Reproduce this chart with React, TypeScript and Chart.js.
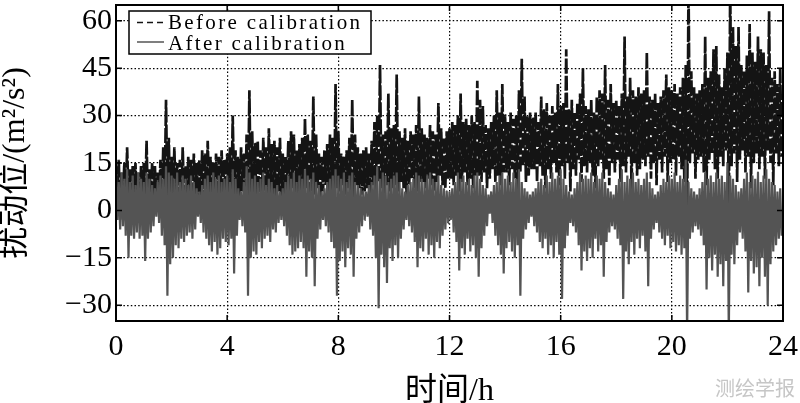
import { useEffect, useRef } from 'react';
import { Chart, registerables } from 'chart.js';

Chart.register(...registerables);

// ---- data (one row = one hour, 0.1 h bins) ----
const BIN_HOURS = 0.1;
const xTicks = [0, 4, 8, 12, 16, 20, 24];
const yTicks = [-30, -15, 0, 15, 30, 45, 60];
const seriesLabels = ['Before calibration', 'After calibration'];
const xTitle = '时间/h';
const yTitle = '扰动位/(m²/s²)';
const watermark = '测绘学报';

// upper envelope of "Before calibration" per bin
const beforeHigh = [
  14, 16, 12, 15, 20, 13, 14, 15, 12, 14,
  15, 22, 13, 15, 14, 12, 16, 20, 35, 23,
  17, 20, 15, 16, 20, 14, 17, 16, 18, 15,
  16, 19, 18, 22, 17, 15, 18, 17, 19, 16,
  18, 20, 30, 19, 17, 20, 18, 24, 38, 25,
  21, 22, 19, 23, 20, 26, 21, 22, 20, 23,
  18, 17, 22, 25, 24, 19, 21, 23, 29, 24,
  22, 36, 24, 18, 17, 19, 21, 24, 23, 40,
  25, 18, 17, 19, 23, 35, 24, 20, 18, 19,
  20, 18, 22, 28, 30, 46, 24, 25, 37, 26,
  27, 43, 25, 23, 26, 22, 25, 24, 27, 36,
  26, 24, 23, 27, 25, 24, 34, 26, 23, 25,
  26, 28, 27, 30, 37, 28, 29, 27, 30, 28,
  41, 35, 33, 27, 26, 28, 30, 38, 31, 40,
  30, 28, 31, 29, 30, 38, 48, 36, 30, 31,
  29, 31, 28, 36, 32, 34, 30, 33, 31, 40,
  33, 34, 51, 32, 35, 31, 34, 37, 45, 33,
  32, 35, 31, 36, 38, 37, 46, 35, 40, 34,
  35, 33, 37, 55, 36, 42, 38, 36, 39, 37,
  38, 50, 36, 35, 37, 34, 36, 38, 43, 39,
  38, 40, 37, 39, 42, 46, 72, 44, 39, 37,
  38, 40, 55, 42, 44, 51, 52, 43, 39, 45,
  50, 72, 58, 52, 58, 46, 44, 49, 59, 50,
  47, 55, 51, 50, 46, 63, 42, 44, 40, 45,
];

// lower envelope of "Before calibration" per bin
const beforeLow = [
  2, -3, 3, 1, 4, 0, 2, 3, -1, 2,
  3, 1, 4, 0, 2, 3, 1, 4, 2, 0,
  3, 2, 5, 1, 3, 4, 2, 1, 4, 3,
  2, 4, 3, 5, 1, 3, 4, 2, 5, 3,
  4, 2, 5, 3, 4, 6, 2, 4, 3, 5,
  5, 3, 4, 6, 2, 5, 4, 3, 6, 4,
  5, 6, 4, 7, 5, 3, 6, 5, 7, 4,
  6, 5, 7, 4, 6, 8, 5, 6, 4, 7,
  6, 8, 5, 7, 6, 4, 8, 7, 5, 6,
  7, 5, 8, 6, 9, 7, 5, 8, 6, 7,
  8, 6, 9, 7, 5, 8, 10, 7, 6, 9,
  9, 7, 10, 8, 6, 9, 11, 8, 7, 10,
  10, 8, 11, 6, 9, 12, 8, 10, 7, 11,
  11, 9, 12, 7, 10, 13, 9, 11, 8, 12,
  12, 8, 13, 10, 6, 12, 14, 9, 11, 13,
  13, 9, 14, 11, 7, 13, 10, 15, 12, 8,
  14, 10, 15, 6, 13, 11, 16, 9, 14, 12,
  15, 11, 7, 14, 16, 10, 13, 8, 15, 12,
  16, 9, 14, 12, 17, 6, 15, 11, 13, 16,
  14, 17, 10, 15, 8, 16, 12, 17, 9, 15,
  16, 11, 17, 13, 9, -5, 15, 18, 10, 16,
  17, 12, 8, 16, 18, 13, 10, 17, 14, 19,
  -3, 14, 18, 9, 16, 19, 12, 17, 7, 15,
  18, 13, 17, 10, 19, 15, 8, 18, 14, 17,
];

// upper envelope of "After calibration" per bin
const afterHigh = [
  11, 9, 12, 10, 13, 9, 11, 8, 12, 10,
  9, 12, 10, 8, 7, 9, 11, 10, 14, 12,
  11, 10, 12, 9, 11, 10, 8, 11, 9, 7,
  6, 8, 10, 11, 9, 12, 10, 11, 9, 10,
  11, 9, 13, 10, 7, 6, 9, 14, 12, 10,
  11, 9, 10, 12, 8, 10, 9, 7, 8, 6,
  7, 9, 11, 10, 12, 9, 11, 10, 13, 11,
  10, 12, 9, 8, 6, 7, 9, 10, 11, 13,
  11, 10, 12, 9, 11, 12, 9, 8, 7, 6,
  6, 8, 9, 11, 14, 10, 12, 11, 9, 10,
  11, 12, 9, 7, 6, 8, 9, 10, 12, 11,
  10, 9, 11, 12, 10, 9, 11, 8, 7, 6,
  6, 7, 9, 12, 10, 11, 9, 10, 8, 11,
  12, 10, 8, 7, 5, 6, 8, 9, 11, 12,
  10, 11, 9, 12, 10, 13, 9, 7, 6, 5,
  6, 7, 9, 10, 8, 11, 9, 12, 10, 11,
  13, 10, 8, 6, 5, 7, 9, 12, 10, 11,
  10, 12, 9, 11, 10, 12, 9, 7, 6, 5,
  8, 10, 13, 9, 11, 10, 12, 9, 10, 8,
  10, 12, 9, 7, 5, 6, 8, 10, 9, 11,
  10, 12, 9, 11, 10, 16, 9, 7, 6, 5,
  7, 9, 12, 10, 11, 9, 12, 10, 11, 9,
  15, 11, 10, 8, 6, 7, 10, 12, 9, 11,
  10, 12, 9, 11, 13, 10, 9, 8, 6, 7,
];

// lower envelope of "After calibration" per bin
const afterLow = [
  -3, -6, -5, -8, -15, -8, -9, -7, -9, -8,
  -16, -9, -7, -5, -2, -4, -8, -11, -27, -17,
  -15, -11, -12, -9, -10, -8, -7, -9, -6, -2,
  -4, -7, -9, -11, -13, -10, -14, -12, -9, -10,
  -11, -9, -20, -8, -3, -5, -7, -27, -15, -13,
  -14, -10, -12, -9, -8, -10, -6, -7, -4, -3,
  -5, -8, -11, -14, -13, -12, -10, -12, -21, -13,
  -15, -24, -9, -6, -3, -5, -7, -10, -12, -27,
  -16, -13, -18, -12, -14, -21, -9, -7, -5, -3,
  -2, -6, -8, -15, -31, -14, -18, -23, -12, -16,
  -11, -15, -9, -6, -3, -5, -7, -10, -18, -12,
  -13, -9, -14, -11, -15, -10, -12, -8, -6, -4,
  -3, -7, -10, -19, -12, -14, -9, -13, -11, -15,
  -21, -12, -8, -5, -1, -4, -8, -11, -14, -20,
  -12, -10, -13, -15, -11, -27, -9, -6, -4, -2,
  -5, -7, -10, -12, -9, -14, -11, -15, -10, -14,
  -28, -12, -8, -4, -5, -7, -11, -19, -13, -16,
  -12, -15, -9, -13, -11, -21, -10, -7, -5, -6,
  -9, -11, -28, -13, -17, -10, -14, -9, -12, -8,
  -13, -24, -9, -6, -4, -7, -9, -11, -8, -12,
  -10, -13, -11, -14, -12, -40, -9, -7, -5, -6,
  -8, -11, -25, -15, -19, -14, -21, -17, -24, -16,
  -40, -14, -17, -11, -7, -9, -13, -26, -16, -20,
  -18, -24, -15, -21, -30, -17, -13, -11, -9, -8,
];

// ---- helpers ----
function toPoints(high: number[], low: number[]) {
  const pts: { x: number; y: number }[] = [];
  for (let i = 0; i < high.length; i++) {
    pts.push({ x: i * BIN_HOURS, y: high[i] });
    pts.push({ x: i * BIN_HOURS + BIN_HOURS / 2, y: low[i] });
  }
  return pts;
}

const SERIF = '"Liberation Serif", "Times New Roman", serif';
const TITLE_FONT = '"Liberation Serif", "Noto Sans CJK SC", serif';

function drawSpaced(ctx: CanvasRenderingContext2D, text: string, x: number, y: number, spacing: number) {
  let cx = x;
  for (const ch of text) {
    ctx.fillText(ch, cx, y);
    cx += ctx.measureText(ch).width + spacing;
  }
}

const framePlugin = {
  id: 'matlabFrame',
  afterDraw(chart: any) {
    const { ctx, chartArea } = chart;
    const { left, right, top, bottom } = chartArea;
    const xs = chart.scales.x;
    const ys = chart.scales.y;
    ctx.save();
    // inward tick marks on all four sides
    ctx.strokeStyle = '#000';
    ctx.lineWidth = 1.5;
    ctx.setLineDash([]);
    const len = 6;
    ctx.beginPath();
    xTicks.forEach((v) => {
      const px = xs.getPixelForValue(v);
      ctx.moveTo(px, bottom);
      ctx.lineTo(px, bottom - len);
      ctx.moveTo(px, top);
      ctx.lineTo(px, top + len);
    });
    yTicks.forEach((v) => {
      const py = ys.getPixelForValue(v);
      ctx.moveTo(left, py);
      ctx.lineTo(left + len, py);
      ctx.moveTo(right, py);
      ctx.lineTo(right - len, py);
    });
    ctx.stroke();
    // frame
    ctx.lineWidth = 2;
    ctx.strokeRect(left, top, right - left, bottom - top);

    // legend box
    const bx = 129, by = 11, bw = 242, bh = 43;
    ctx.fillStyle = '#fff';
    ctx.fillRect(bx, by, bw, bh);
    ctx.lineWidth = 1.5;
    ctx.strokeStyle = '#000';
    ctx.strokeRect(bx, by, bw, bh);
    ctx.font = `21px ${SERIF}`;
    ctx.textBaseline = 'alphabetic';
    ctx.textAlign = 'left';
    const first = chart.data.datasets[0].label as string;
    const natural = ctx.measureText(first).width;
    const spacing = (192 - natural) / (first.length - 1);
    const rowY = [22.5, 42];
    const baseY = [28.5, 49.5];
    chart.data.datasets.forEach((ds: any, i: number) => {
      ctx.strokeStyle = ds.borderColor;
      ctx.lineWidth = 1.5;
      ctx.setLineDash(i === 0 ? [6, 4] : []);
      ctx.beginPath();
      ctx.moveTo(137, rowY[i]);
      ctx.lineTo(164, rowY[i]);
      ctx.stroke();
      ctx.setLineDash([]);
      ctx.fillStyle = '#000';
      drawSpaced(ctx, ds.label, 168, baseY[i], spacing);
    });

    // watermark
    ctx.font = '20px "Noto Sans CJK SC", sans-serif';
    ctx.fillStyle = '#c6c6c6';
    ctx.textAlign = 'center';
    ctx.textBaseline = 'middle';
    ctx.fillText(watermark, 755, 388);
    ctx.restore();
  },
};

const fmt = (v: number | string) => {
  const n = Number(v);
  return n < 0 ? '\u2212' + Math.abs(n) : String(n);
};

export default function App() {
  const ref = useRef<HTMLCanvasElement | null>(null);

  useEffect(() => {
    if (!ref.current) return;
    const chart = new Chart(ref.current, {
      type: 'line',
      data: {
        datasets: [
          {
            label: seriesLabels[0],
            data: toPoints(beforeHigh, beforeLow),
            borderColor: '#141414',
            borderWidth: 2.7,
            borderDash: [15, 2],
            pointRadius: 0,
            tension: 0.0001,
            order: 1,
          },
          {
            label: seriesLabels[1],
            data: toPoints(afterHigh, afterLow),
            borderColor: '#545454',
            borderWidth: 2.2,
            pointRadius: 0,
            tension: 0.0001,
            order: 0,
          },
        ],
      },
      options: {
        animation: false,
        responsive: false,
        maintainAspectRatio: false,
        events: [],
        layout: { padding: { top: 5, right: 17, bottom: 0, left: 0 } },
        plugins: {
          legend: { display: false },
          tooltip: { enabled: false },
        },
        scales: {
          x: {
            type: 'linear',
            min: 0,
            max: 24,
            afterBuildTicks: (s: any) => {
              s.ticks = xTicks.map((v) => ({ value: v }));
            },
            afterFit: (s: any) => {
              s.height = 82;
              s.paddingLeft = 0;
              s.paddingRight = 0;
            },
            grid: { color: '#000', lineWidth: 1.2, drawTicks: false },
            border: { display: false, dash: [1.5, 2.2] },
            ticks: {
              color: '#000',
              font: { family: SERIF, size: 30, lineHeight: 1.2 },
              padding: 8,
              maxRotation: 0,
              autoSkip: false,
              callback: (v: any) => fmt(v),
            },
            title: {
              display: true,
              text: xTitle,
              color: '#000',
              font: { family: TITLE_FONT, size: 32, lineHeight: 1.0 },
              padding: { top: 0, bottom: -5 },
            },
          },
          y: {
            type: 'linear',
            min: -35,
            max: 65,
            afterBuildTicks: (s: any) => {
              s.ticks = yTicks.map((v) => ({ value: v }));
            },
            afterFit: (s: any) => {
              s.width = 116;
              s.paddingTop = 0;
              s.paddingBottom = 0;
            },
            grid: { color: '#000', lineWidth: 1.2, drawTicks: false },
            border: { display: false, dash: [1.5, 2.2] },
            ticks: {
              color: '#000',
              font: { family: SERIF, size: 30, lineHeight: 1.2 },
              padding: 4,
              autoSkip: false,
              callback: (v: any) => fmt(v),
            },
            title: {
              display: true,
              text: yTitle,
              color: '#000',
              font: { family: TITLE_FONT, size: 32, lineHeight: 1.0 },
              padding: { top: 0, bottom: 0 },
            },
          },
        },
      },
      plugins: [framePlugin],
    } as any);
    return () => chart.destroy();
  }, []);

  return (
    <div style={{ position: 'absolute', left: 0, top: 0, width: 800, height: 403, background: '#fff' }}>
      <canvas ref={ref} width={800} height={403} style={{ display: 'block', width: 800, height: 403 }} />
    </div>
  );
}
